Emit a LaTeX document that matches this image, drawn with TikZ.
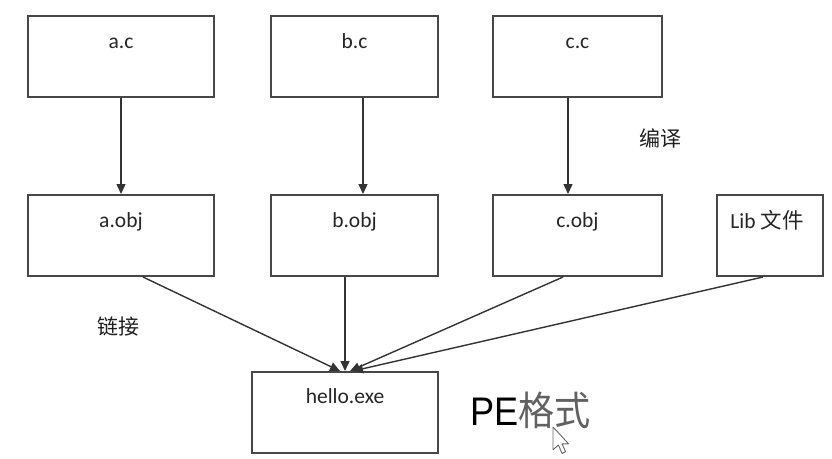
\documentclass[tikz,border=0pt]{standalone}
\usepackage{fontspec}
\setmainfont{Carlito}
\newfontfamily\cjk{Noto Sans CJK SC}
\newfontfamily\pefont{Liberation Sans}
\usetikzlibrary{arrows.meta}
\begin{document}
\begin{tikzpicture}[x=1pt,y=-1pt,
  box/.style={draw=black!72, line width=2pt, fill=white, inner sep=0pt, minimum height=81pt},
  lbl/.style={text=black!85, font=\fontsize{21.5}{25}\selectfont, inner sep=0pt, anchor=base},
  cjklbl/.style={text=black!88, font=\cjk\fontsize{21}{25}\selectfont, inner sep=0pt},
  conn/.style={draw=black!80, line width=1.4pt, -{Triangle[length=10pt,width=9pt]}}]
\useasboundingbox (0,0) rectangle (832,458);

% boxes
\node[box, minimum width=186pt] (ac) at (121,56.5) {};
\node[box, minimum width=167pt] (bc) at (354.5,56.5) {};
\node[box, minimum width=169pt] (cc) at (577.5,56.5) {};
\node[box, minimum width=186pt] (aobj) at (121,235.5) {};
\node[box, minimum width=167pt] (bobj) at (354.5,235.5) {};
\node[box, minimum width=169pt] (cobj) at (577.5,235.5) {};
\node[box, minimum width=106pt] (lib) at (770,235.5) {};
\node[box, minimum width=186pt] (hello) at (345,412.5) {};

% box texts
\node[lbl] (acT) at ([yshift=-33pt]ac.north) {a.c};
\node[lbl] (bcT) at ([yshift=-33pt]bc.north) {b.c};
\node[lbl] (ccT) at ([yshift=-33pt]cc.north) {c.c};
\node[lbl] (aobjT) at ([yshift=-33pt]aobj.north) {a.obj};
\node[lbl] (bobjT) at ([yshift=-33pt]bobj.north) {b.obj};
\node[lbl] (cobjT) at ([yshift=-33pt]cobj.north) {c.obj};
\node[lbl] (libT) at ([xshift=-3pt,yshift=-34pt]lib.north) {Lib {\cjk 文件}};
\node[lbl] (helloT) at ([yshift=-32pt]hello.north) {hello.exe};

% free texts
\node[cjklbl] (bianyi) at (660,138) {编译};
\node[cjklbl] (lianjie) at (118,327) {链接};
\node[anchor=base west, inner sep=0pt] (pe) at (470,425)
  {\scalebox{0.95}[1.05]{\pefont\fontsize{38}{44}\selectfont PE{\cjk\color{black!62}格式}}};

% compile arrows
\draw[conn] (ac.south) -- (aobj.north);
\draw[conn] ([xshift=8.5pt]bc.south) -- ([xshift=8.5pt]bobj.north);
\draw[conn] ([xshift=-9.5pt]cc.south) -- ([xshift=-9.5pt]cobj.north);

% link arrows
\draw[conn] ([xshift=22pt]aobj.south) -- ([xshift=-5pt]hello.north);
\draw[conn] ([xshift=-9.5pt]bobj.south) -- (hello.north);
\draw[conn] ([xshift=-14.5pt]cobj.south) -- ([xshift=5pt]hello.north);
\draw[conn] ([xshift=-7pt]lib.south) -- ([xshift=8pt]hello.north);

% mouse cursor
\draw[fill=white, draw=black!60, line width=0.9pt, line join=round, shift={(553,427)}, scale=1.2]
  (0,0) -- (0,19) -- (4.5,15) -- (7.5,22) -- (10.5,20.5) -- (7.5,14) -- (13,14) -- cycle;
\end{tikzpicture}
\end{document}
